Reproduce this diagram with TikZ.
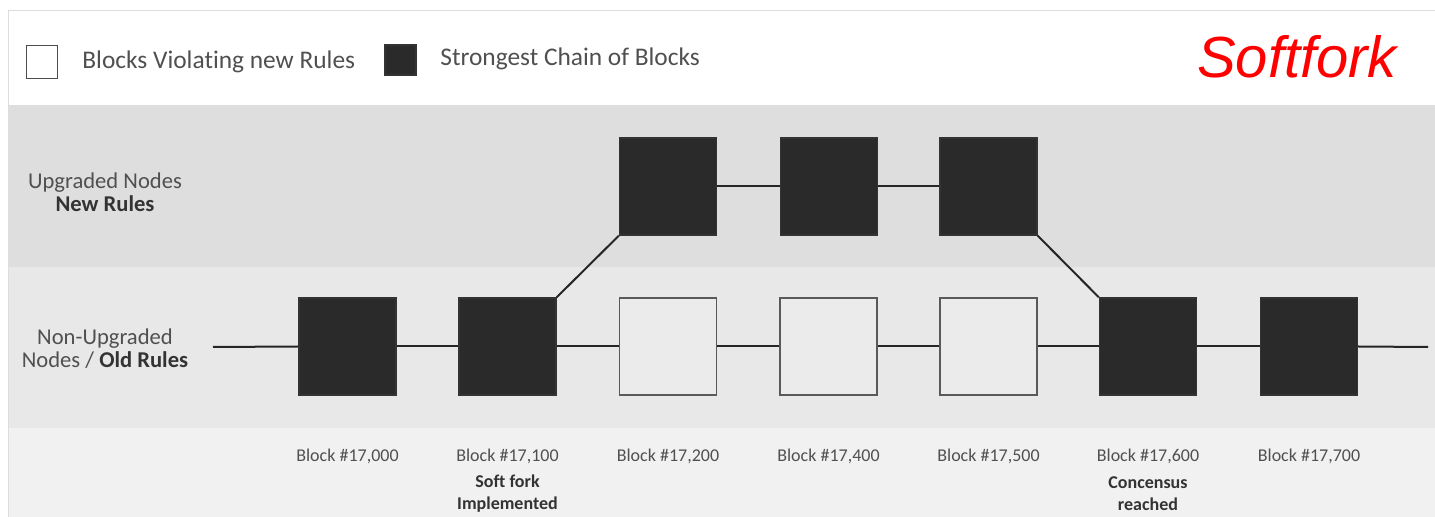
\documentclass[tikz,border=0pt]{standalone}
\usepackage{fontspec}
\setmainfont{Carlito}[Ligatures=NoCommon]
\newfontfamily\arialfont{Liberation Sans}
\definecolor{bandtop}{HTML}{DEDEDE}
\definecolor{bandmid}{HTML}{E8E8E8}
\definecolor{bandlow}{HTML}{F1F1F1}
\definecolor{blkfill}{HTML}{2A2A2A}
\definecolor{weakfill}{HTML}{EBEBEB}
\definecolor{txtgray}{HTML}{505050}
\definecolor{txtdark}{HTML}{333333}
\definecolor{framegray}{HTML}{DDDDDD}
\begin{document}
\begin{tikzpicture}[x=0.5pt,y=-0.5pt,
  blk/.style={draw=black!80, line width=0.7pt, minimum width=48.5pt, minimum height=48.5pt, inner sep=0pt},
  strong/.style={blk, fill=blkfill},
  weak/.style={blk, fill=weakfill, draw=black!65},
  link/.style={draw=black!85, line width=1pt},
  lbl/.style={text=txtgray, font=\fontsize{9}{10}\selectfont, inner sep=0pt},
  note/.style={text=txtdark, font=\fontsize{9}{11}\selectfont\bfseries, align=center, inner sep=0pt},
  rowlbl/.style={text=txtgray, font=\fontsize{11.3}{12.5}\selectfont, align=center, inner sep=0pt},
  legtxt/.style={text=txtgray, font=\fontsize{12.7}{14}\selectfont, anchor=west, inner sep=0pt}
]
\useasboundingbox (0,0) rectangle (1435,517);
\fill[white] (0,0) rectangle (1435,517);

% background bands
\fill[bandtop] (8,105) rectangle (1435,267);
\fill[bandmid] (8,267) rectangle (1435,428);
\fill[bandlow] (8,428) rectangle (1435,517);
\draw[framegray, line width=0.5pt] (8,517) -- (8,11) -- (1435,11);

% legend
\node[draw=black!70, fill=white, line width=0.8pt, minimum width=15.5pt, minimum height=16.5pt, inner sep=0pt] (legweak) at (42,62) {};
\node[legtxt] (legweaktxt) at (82,62) {Blocks Violating new Rules};
\node[draw=black!80, fill=blkfill, line width=0.6pt, minimum width=15.5pt, minimum height=15pt, inner sep=0pt] (legstrong) at (400.5,60) {};
\node[legtxt] (legstrongtxt) at (440,59) {Strongest Chain of Blocks};
\node[text=red, font=\arialfont\itshape\fontsize{29}{32}\selectfont, inner sep=0pt] (title) at (1297,57) {Softfork};

% row labels
\node[rowlbl] (uplbl) at (105,192) {Upgraded Nodes\\[-1pt]\textcolor{txtdark}{\bfseries New Rules}};
\node[rowlbl] (oldlbl) at (105,349) {Non-Upgraded\\[-1pt]Nodes / \textcolor{txtdark}{\bfseries Old Rules}};

% chain ends
\coordinate (chainstart) at (213,347);
\coordinate (chainend) at (1428,347);

% old-rule chain
\node[strong] (b1) at (347.5,346.5) {};
\node[strong] (b2) at (507.5,346.5) {};
\node[weak]   (b3) at (668,346.5) {};
\node[weak]   (b4) at (828.5,346.5) {};
\node[weak]   (b5) at (988.5,346.5) {};
\node[strong] (b6) at (1148,346.5) {};
\node[strong] (b7) at (1309,346.5) {};

% new-rule chain
\node[strong] (u1) at (668,186.5) {};
\node[strong] (u2) at (829,186.5) {};
\node[strong] (u3) at (988.5,186.5) {};

% connectors
\draw[link] (chainstart) -- (b1.west);
\draw[link] (b1) -- (b2);
\draw[link] (b2) -- (b3);
\draw[link] (b3) -- (b4);
\draw[link] (b4) -- (b5);
\draw[link] (b5) -- (b6);
\draw[link] (b6) -- (b7);
\draw[link] (b7.east) -- (chainend);
\draw[link] (u1) -- (u2);
\draw[link] (u2) -- (u3);
\draw[link] (b2.north east) -- (u1.south west);
\draw[link] (u3.south east) -- (b6.north west);

% block numbers
\node[lbl] (n1) at (347.5,456) {Block \#17,000};
\node[lbl] (n2) at (507.5,456) {Block \#17,100};
\node[lbl] (n3) at (668,456) {Block \#17,200};
\node[lbl] (n4) at (828.5,456) {Block \#17,400};
\node[lbl] (n5) at (988.5,456) {Block \#17,500};
\node[lbl] (n6) at (1148,456) {Block \#17,600};
\node[lbl] (n7) at (1309,456) {Block \#17,700};

% milestone notes
\node[note] (forknote) at (507.5,494) {Soft fork\\Implemented};
\node[note] (consnote) at (1148,494) {Concensus\\reached};
\end{tikzpicture}
\end{document}
